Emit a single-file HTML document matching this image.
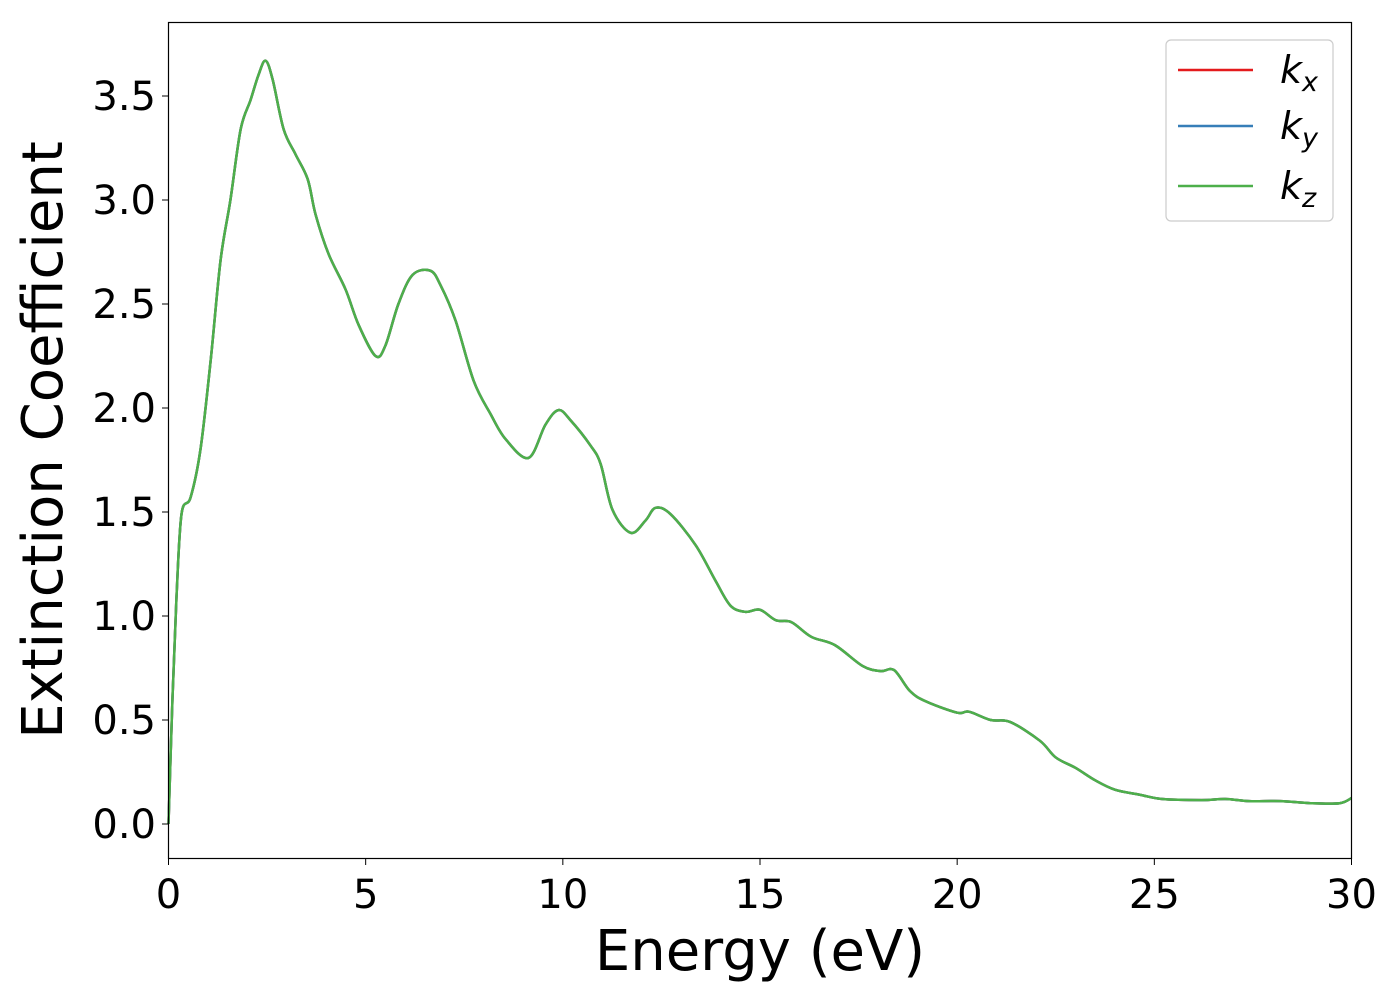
<!DOCTYPE html>
<html><head><meta charset="utf-8"><style>
body{margin:0;background:#fff;}
svg text{font-family:"DejaVu Sans","Liberation Sans",sans-serif;}
</style></head><body>
<svg width="1400" height="1000" viewBox="0 0 1400 1000">
<rect x="0" y="0" width="1400" height="1000" fill="#fff"/>
<g id="series"></g>
<rect x="168.5" y="22.5" width="1183" height="836" fill="none" stroke="#000" stroke-width="1.2"/>
<g id="xticks"></g>
<g id="yticks"></g>
<text x="760" y="970" font-size="56" text-anchor="middle">Energy (eV)</text>
<text x="0" y="0" font-size="56" text-anchor="middle" transform="translate(62,440) rotate(-90)">Extinction Coefficient</text>
<g>
<rect x="1166" y="40" width="167" height="181" rx="5" fill="#fff" stroke="#ccc" stroke-width="1.2"/>
<line x1="1178" y1="70" x2="1253" y2="70" stroke="#e41a1c" stroke-width="2.5"/>
<text x="1280" y="83" font-size="38" font-style="italic">k<tspan font-size="27" dy="8">x</tspan></text>
<line x1="1178" y1="126" x2="1253" y2="126" stroke="#377eb8" stroke-width="2.5"/>
<text x="1280" y="139" font-size="38" font-style="italic">k<tspan font-size="27" dy="8">y</tspan></text>
<line x1="1178" y1="186" x2="1253" y2="186" stroke="#4daf4a" stroke-width="2.5"/>
<text x="1280" y="199" font-size="38" font-style="italic">k<tspan font-size="27" dy="8">z</tspan></text>
</g>
</svg>
<script>
const energy=[0,0.1,0.2,0.33,0.56,0.81,1.07,1.32,1.57,1.83,2.08,2.28,2.46,2.64,2.92,3.22,3.53,3.73,4.06,4.49,4.82,5.25,5.5,5.83,6.19,6.64,6.9,7.28,7.74,8.17,8.55,9.13,9.56,9.89,10.2,10.7,10.96,11.26,11.72,12.1,12.35,12.73,13.37,13.87,14.25,14.63,15.0,15.4,15.8,16.3,16.9,17.6,18.06,18.4,18.8,19.2,20,20.3,20.85,21.35,22.1,22.5,23,23.5,24,24.65,25.2,26.2,26.8,27.4,28.2,28.96,29.7,30];
const kz=[0,0.6,1.08,1.49,1.57,1.8,2.23,2.71,3.0,3.34,3.48,3.6,3.67,3.58,3.34,3.22,3.1,2.93,2.74,2.57,2.4,2.25,2.3,2.5,2.64,2.66,2.59,2.42,2.13,1.97,1.85,1.76,1.92,1.99,1.94,1.82,1.73,1.51,1.4,1.46,1.52,1.49,1.34,1.17,1.05,1.02,1.03,0.98,0.97,0.9,0.86,0.76,0.735,0.74,0.64,0.59,0.535,0.54,0.5,0.49,0.4,0.32,0.27,0.21,0.165,0.14,0.12,0.115,0.12,0.11,0.11,0.1,0.1,0.125];
const kx=kz.slice();
const ky=kz.slice();
const xTicks=[0,5,10,15,20,25,30];
const yTicks=[0.0,0.5,1.0,1.5,2.0,2.5,3.0,3.5];
const NS="http://www.w3.org/2000/svg";
function sx(v){return 168.5+v*(1183/30);}
function sy(v){return 824-v*208;}
function pathFor(xs,ys){
  const p=xs.map((x,i)=>[sx(x),sy(ys[i])]);
  let d="M"+p[0][0]+","+p[0][1];
  for(let i=0;i<p.length-1;i++){
    const p0=p[Math.max(0,i-1)],p1=p[i],p2=p[i+1],p3=p[Math.min(p.length-1,i+2)];
    const c1x=p1[0]+(p2[0]-p0[0])/6,c1y=p1[1]+(p2[1]-p0[1])/6;
    const c2x=p2[0]-(p3[0]-p1[0])/6,c2y=p2[1]-(p3[1]-p1[1])/6;
    d+=" C"+c1x+","+c1y+" "+c2x+","+c2y+" "+p2[0]+","+p2[1];
  }
  return d;
}
const g=document.getElementById("series");
[[kx,"#e41a1c","line-kx"],[ky,"#377eb8","line-ky"],[kz,"#4daf4a","line-kz"]].forEach(s=>{
  const el=document.createElementNS(NS,"path");
  el.setAttribute("d",pathFor(energy,s[0]));
  el.setAttribute("fill","none");el.setAttribute("stroke",s[1]);el.setAttribute("stroke-width","2.5");
  
  
  g.appendChild(el);
});
const xg=document.getElementById("xticks");
xTicks.forEach(v=>{
  const l=document.createElementNS(NS,"line");
  l.setAttribute("x1",sx(v));l.setAttribute("x2",sx(v));l.setAttribute("y1",858.5);l.setAttribute("y2",865);l.setAttribute("stroke","#000");
  
  
  xg.appendChild(l);
  const t=document.createElementNS(NS,"text");
  t.setAttribute("x",sx(v));t.setAttribute("y",908);t.setAttribute("font-size","40");t.setAttribute("text-anchor","middle");
  t.textContent=v;
  
  
  xg.appendChild(t);
});
const yg=document.getElementById("yticks");
yTicks.forEach(v=>{
  const l=document.createElementNS(NS,"line");
  l.setAttribute("x1",162);l.setAttribute("x2",168.5);l.setAttribute("y1",sy(v));l.setAttribute("y2",sy(v));l.setAttribute("stroke","#000");
  
  
  yg.appendChild(l);
  const t=document.createElementNS(NS,"text");
  t.setAttribute("x",156);t.setAttribute("y",sy(v)+14);t.setAttribute("font-size","40");t.setAttribute("text-anchor","end");
  t.textContent=v.toFixed(1);
  
  
  yg.appendChild(t);
});
</script>
</body></html>
